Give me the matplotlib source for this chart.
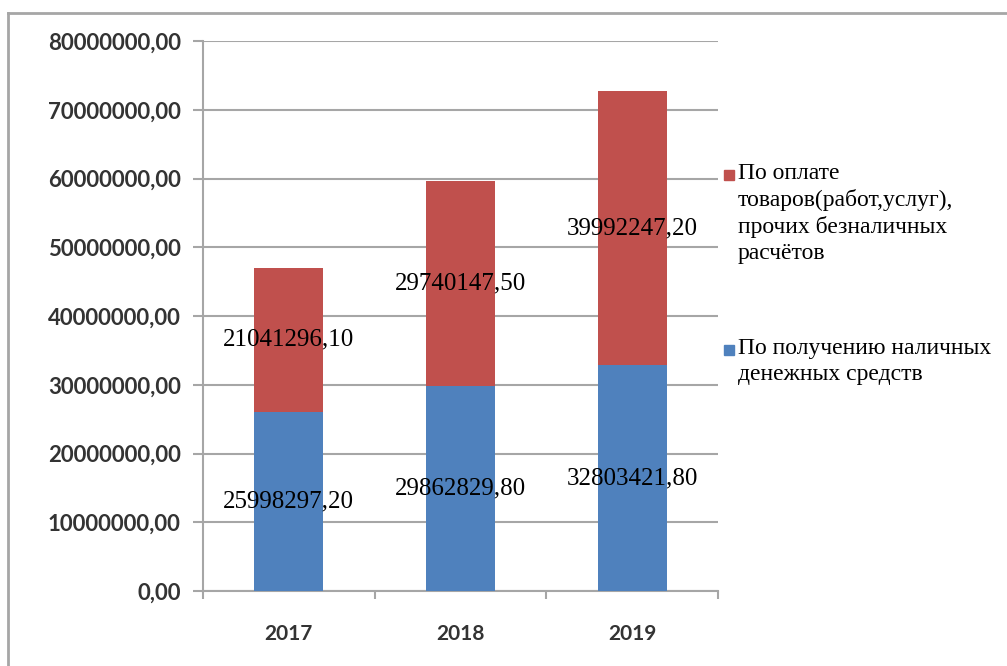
import numpy as np
import matplotlib.pyplot as plt
from matplotlib.lines import Line2D
from matplotlib.patches import Rectangle

years = ['2017', '2018', '2019']
cash = [25998297.20, 29862829.80, 32803421.80]
cashless = [21041296.10, 29740147.50, 39992247.20]
series_names = ['По оплате\nтоваров(работ,услуг),\nпрочих безналичных\nрасчётов',
                'По получению наличных\nденежных средств']
colors = ['#C0504D', '#4F81BD']

W, H = 1007, 666
fig = plt.figure(figsize=(W / 100, H / 100), dpi=100)
ax = fig.add_axes([203 / W, 1 - 591 / H, (718 - 203) / W, (591 - 41) / H])

x = np.arange(len(years))
bw = 0.4
ax.bar(x, cash, bw, color=colors[1], zorder=3)
ax.bar(x, cashless, bw, bottom=cash, color=colors[0], zorder=3)

def fmt(v):
    return '{:.2f}'.format(v).replace('.', ',')

# data labels centred in each segment
for i in range(len(years)):
    ax.text(x[i], cash[i] / 2, fmt(cash[i]), ha='center', va='center',
            fontsize=18, family='Liberation Serif', color='black', zorder=4)
    ax.text(x[i], cash[i] + cashless[i] / 2, fmt(cashless[i]), ha='center', va='center',
            fontsize=18, family='Liberation Serif', color='black', zorder=4)

grid_c = '#a6a6a6'
ax.set_xlim(-0.5, 2.5)
ax.set_ylim(0, 80000000)
yt = np.arange(0, 80000001, 10000000)
ax.set_yticks(yt)
ax.set_yticklabels([fmt(v) for v in yt], fontsize=16, family='Lato',
                   fontweight='bold', color='#333333')
ax.yaxis.grid(True, color=grid_c, lw=1.5, zorder=0)

ax.set_xticks(x)
ax.set_xticklabels(years, fontsize=15, family='Lato', fontweight='bold', color='#333333')
ax.tick_params(axis='x', length=0, pad=24)
ax.set_xticks([-0.5, 0.5, 1.5, 2.5], minor=True)
ax.tick_params(axis='x', which='minor', length=6, width=1.5, color=grid_c, direction='out')
ax.tick_params(axis='y', length=7, width=1.5, color=grid_c, pad=9)

for s in ['top', 'right']:
    ax.spines[s].set_visible(False)
for s in ['left', 'bottom']:
    ax.spines[s].set_color(grid_c)
    ax.spines[s].set_linewidth(1.5)

# legend drawn by hand so the markers sit on the first text line
leg_y = [163, 338]
for name, c, ly in zip(series_names, colors, leg_y):
    fig.text(738 / W, 1 - ly / H, name, ha='left', va='top', fontsize=17,
             family='Liberation Serif', color='black', linespacing=1.3)
    fig.add_artist(Rectangle((724 / W, 1 - (ly + 17) / H), 10 / W, 10 / H,
                             transform=fig.transFigure, color=c))

# outer chart border
fig.add_artist(Line2D([8 / W, 8 / W], [0, 1 - 13 / H], transform=fig.transFigure,
                      color=grid_c, lw=2))
fig.add_artist(Line2D([8 / W, 1], [1 - 13 / H, 1 - 13 / H], transform=fig.transFigure,
                      color=grid_c, lw=2))

fig.savefig('out.png', dpi=100)
